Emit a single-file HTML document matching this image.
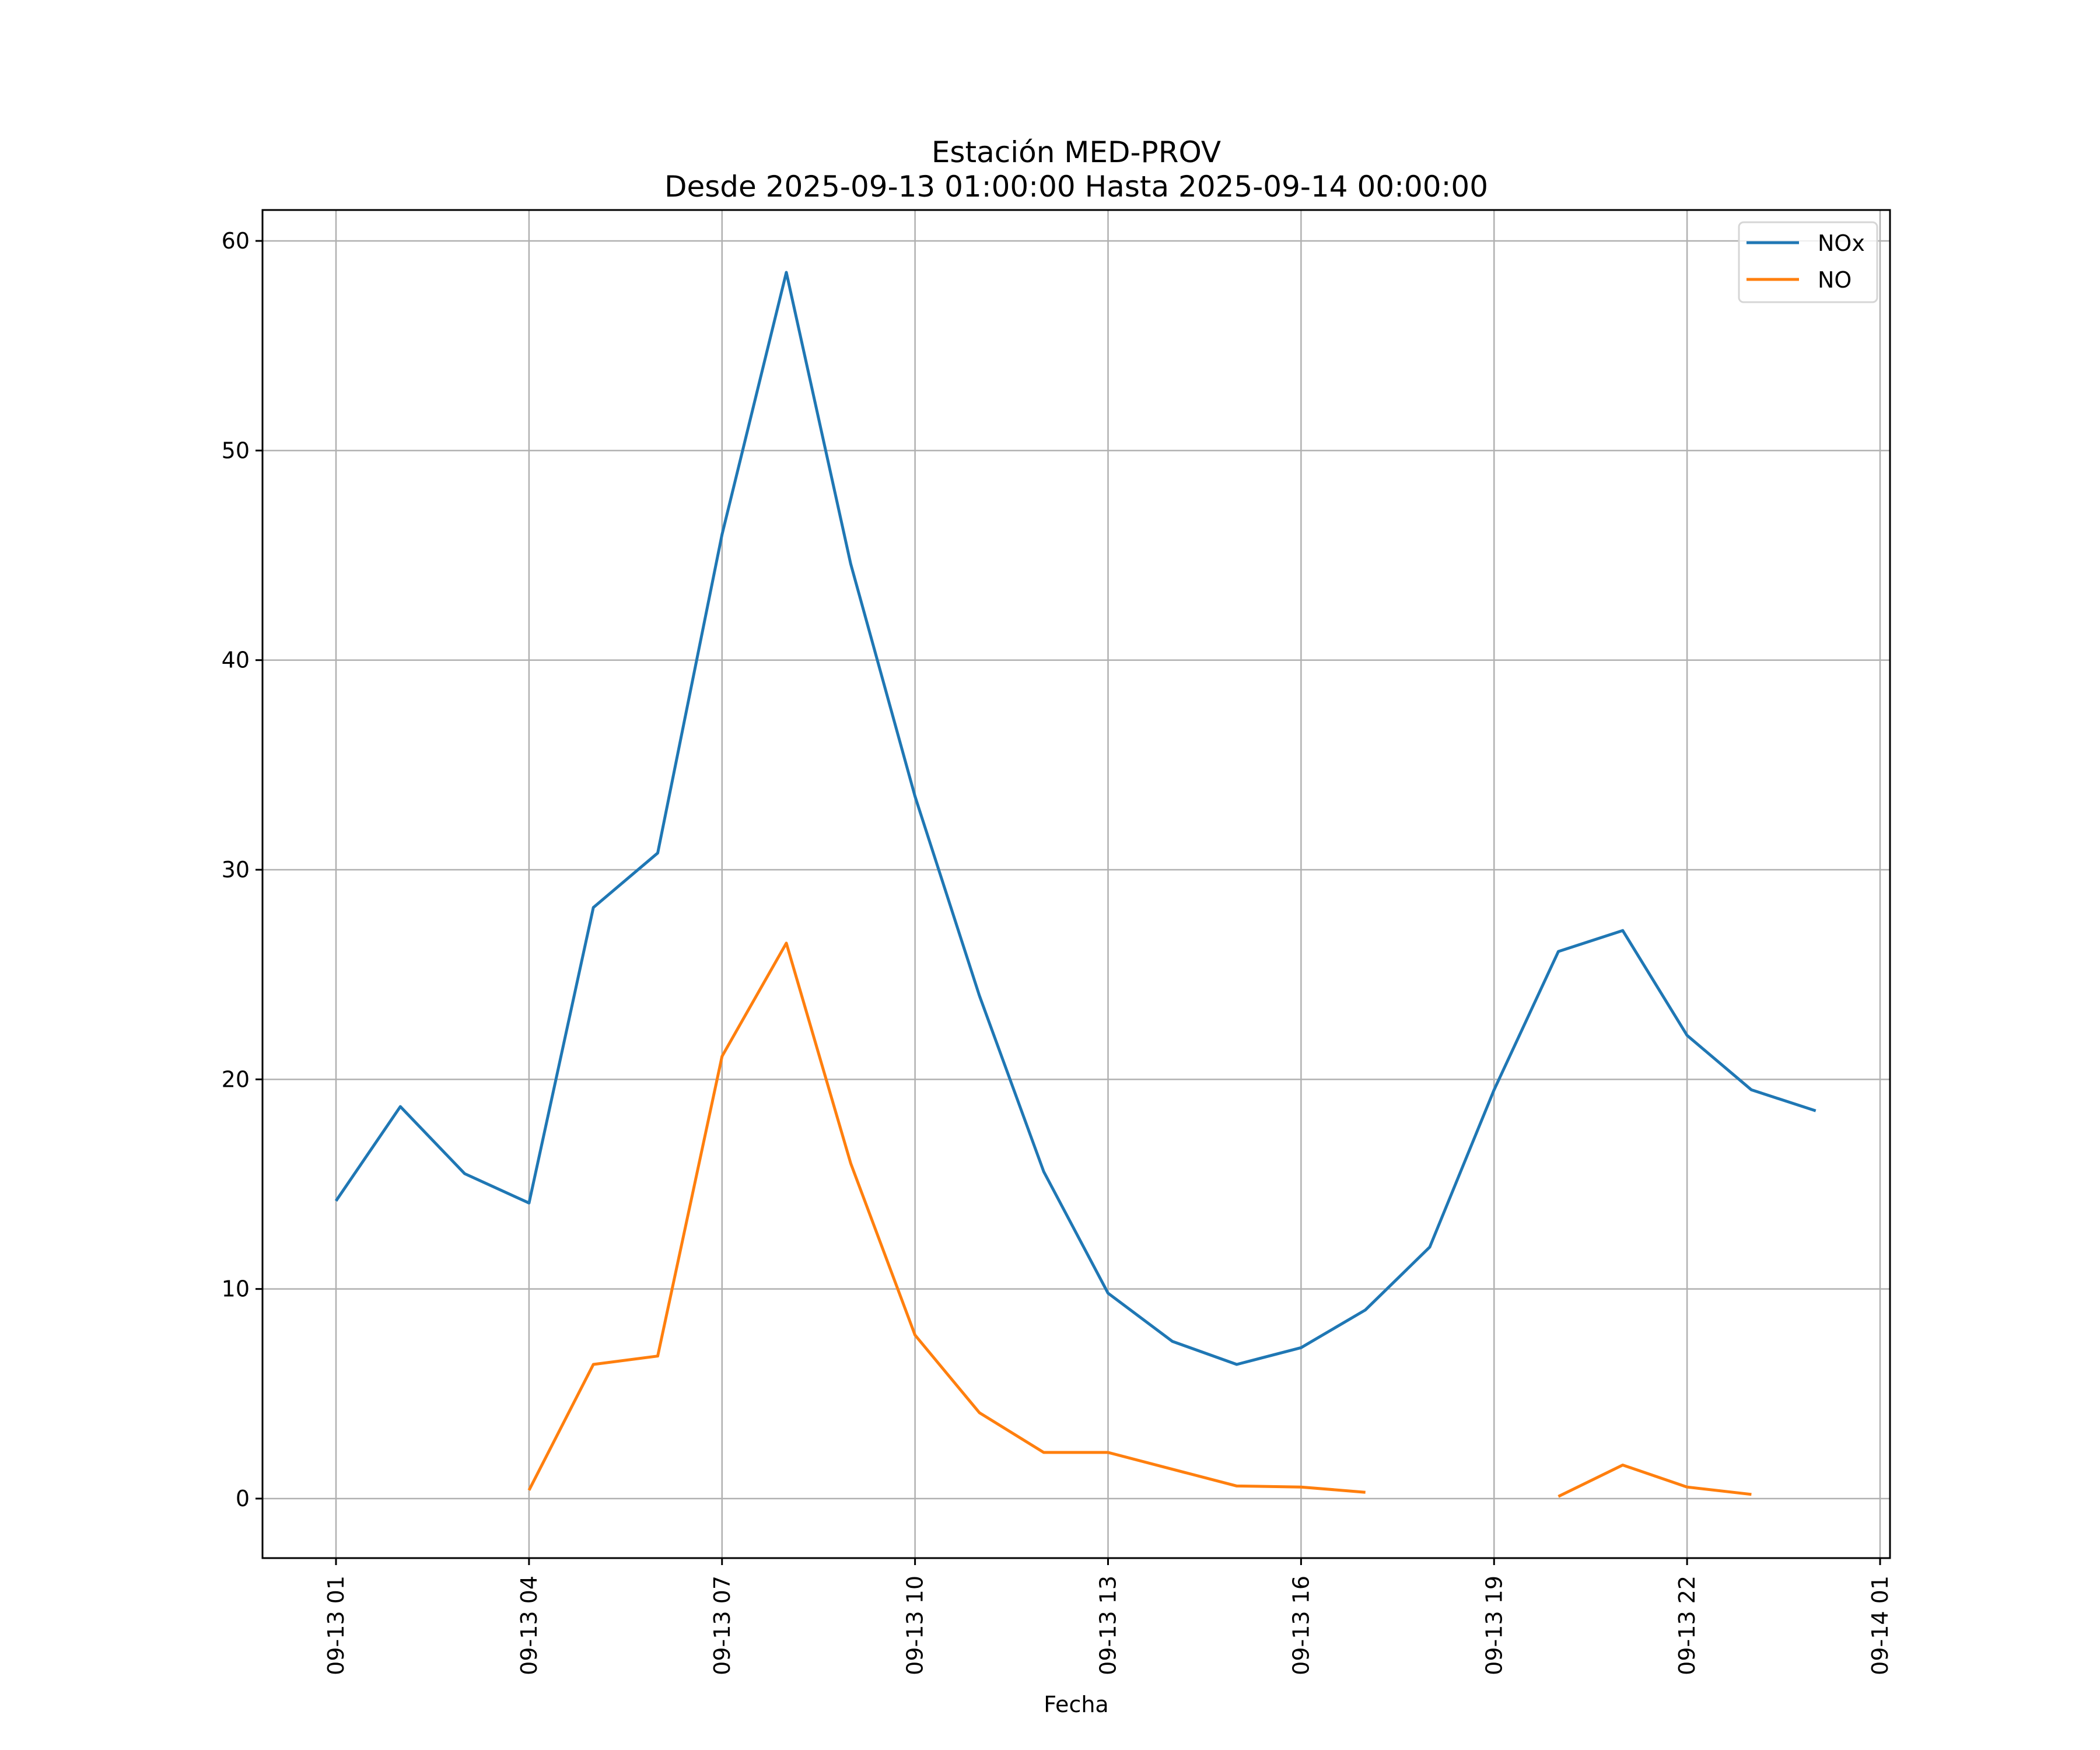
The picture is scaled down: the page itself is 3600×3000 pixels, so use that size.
<!DOCTYPE html>
<html><head><meta charset="utf-8"><style>html,body{margin:0;padding:0;background:#fff}svg{display:block}text{font-family:"DejaVu Sans","Liberation Sans",sans-serif;fill:#000}</style></head>
<body>
<svg id="chart" xmlns="http://www.w3.org/2000/svg" width="3600" height="3000" viewBox="0 0 3600 3000">
<rect width="3600" height="3000" fill="#fff"/>
<text x="1845" y="278" font-size="50" text-anchor="middle">Estación MED-PROV</text>
<text x="1845" y="337" font-size="50" text-anchor="middle">Desde 2025-09-13 01:00:00 Hasta 2025-09-14 00:00:00</text>
<g id="grid"></g>
<g id="series"></g>
<rect x="450" y="360" width="2790" height="2311" fill="none" stroke="#000" stroke-width="3"/>
<g id="ticks"></g>
<text x="1845" y="2935" font-size="38" text-anchor="middle">Fecha</text>
<g>
<rect x="2981" y="381" width="237" height="137" rx="8" fill="#fff" fill-opacity="0.8" stroke="#d6d6d6" stroke-width="3"/>
<line x1="2994" y1="416" x2="3084" y2="416" stroke="#1f77b4" stroke-width="5"/>
<text x="3116" y="430" font-size="38">NOx</text>
<line x1="2994" y1="479" x2="3084" y2="479" stroke="#ff7f0e" stroke-width="5"/>
<text x="3116" y="493" font-size="38">NO</text>
</g>
</svg>
<script>
const hours = [0,1,2,3,4,5,6,7,8,9,10,11,12,13,14,15,16,17,18,19,20,21,22,23];
const noxValues = [14.2,18.7,15.5,14.1,28.2,30.8,46.0,58.5,44.6,33.5,24.0,15.6,9.8,7.5,6.4,7.2,9.0,12.0,19.5,26.1,27.1,22.1,19.5,18.5];
const noValues = [null,null,null,0.4,6.4,6.8,21.1,26.5,16.0,7.8,4.1,2.2,2.2,1.4,0.6,0.55,0.3,null,null,0.1,1.6,0.55,0.2,null];
const xTickHours = [0,3,6,9,12,15,18,21,24];
const xTickLabels = ["09-13 01","09-13 04","09-13 07","09-13 10","09-13 13","09-13 16","09-13 19","09-13 22","09-14 01"];
const yTickValues = [0,10,20,30,40,50,60];

const NS = "http://www.w3.org/2000/svg";
const L=450,R=3240,T=360,B=2671;
function xS(h){return 576 + h*(3223-576)/24;}
function yS(v){return 2569 - v*(2569-413)/60;}
function mk(tag, attrs, parent){const e=document.createElementNS(NS,tag);for(const k in attrs)e.setAttribute(k,attrs[k]);parent.appendChild(e);return e;}
const grid=document.getElementById('grid'), ticks=document.getElementById('ticks'), series=document.getElementById('series');

xTickHours.forEach((h,i)=>{
  const x=xS(h);
  const g=mk('line',{x1:x,y1:T,x2:x,y2:B,stroke:'#b0b0b0','stroke-width':2.5},grid);
  
  
  const t=mk('line',{x1:x,y1:B,x2:x,y2:B+12,stroke:'#000','stroke-width':3},ticks);
  
  
  const lb=mk('text',{x:0,y:0,'font-size':38,'text-anchor':'end',transform:`translate(${x+13},${B+30}) rotate(-90)`},ticks);
  lb.textContent=xTickLabels[i];
  
  
});
yTickValues.forEach(v=>{
  const y=yS(v);
  const g=mk('line',{x1:L,y1:y,x2:R,y2:y,stroke:'#b0b0b0','stroke-width':2.5},grid);
  
  
  const t=mk('line',{x1:L-12,y1:y,x2:L,y2:y,stroke:'#000','stroke-width':3},ticks);
  
  
  const lb=mk('text',{x:L-22,y:y+13,'font-size':38,'text-anchor':'end'},ticks);
  lb.textContent=String(v);
  
  
});
function drawSeries(vals,color,name){
  let d='',pen=false;
  vals.forEach((v,i)=>{
    if(v===null){pen=false;return;}
    d+=(pen?'L':'M')+xS(hours[i]).toFixed(1)+' '+yS(v).toFixed(1)+' ';
    pen=true;
  });
  const p=mk('path',{d:d,fill:'none',stroke:color,'stroke-width':5,'stroke-linejoin':'round','stroke-linecap':'butt'},series);
  
  
}
drawSeries(noxValues,'#1f77b4','nox-line');
drawSeries(noValues,'#ff7f0e','no-line');
</script>
</body></html>
